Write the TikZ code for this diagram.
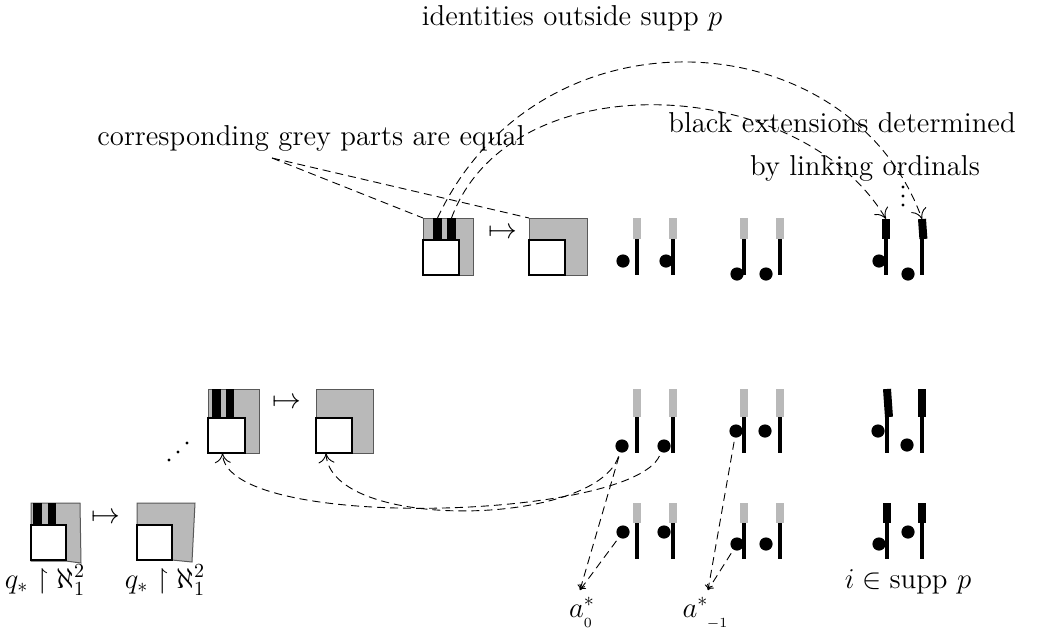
\documentclass[tikz,border=0pt]{standalone}
\usepackage{amssymb}
\usetikzlibrary{arrows.meta}
\definecolor{greyc}{RGB}{185,185,185}
\newcommand{\mystick}[6]{%
  \node[#5, minimum height=#4, anchor=north] (#1) at (#2,#3) {};
  \coordinate (#1x) at (#2,0);
  \draw[stickline] (#1.south -| #1x) -- (#2,#6);}
\begin{document}
\begin{tikzpicture}[x=0.5pt,y=-0.5pt, font=\Large,
  outerbox/.style={fill=greyc, draw=black!65, line width=0.5pt, inner sep=0pt, outer sep=0pt},
  innerbox/.style={fill=white, draw=black, line width=1.3pt, inner sep=0pt, outer sep=0pt, minimum width=18pt, minimum height=17.5pt},
  stripe/.style={fill=black, inner sep=0pt, outer sep=0pt, minimum width=4.5pt},
  gtop/.style={fill=greyc, inner sep=0pt, outer sep=0pt, minimum width=4pt},
  btop/.style={fill=black, inner sep=0pt, outer sep=0pt, minimum width=4pt},
  stickline/.style={line width=1.6pt},
  dot/.style={circle, fill=black, inner sep=0pt, minimum size=6.6pt},
  tinydot/.style={circle, fill=black, inner sep=0pt, minimum size=1.7pt},
  lbl/.style={inner sep=0pt, anchor=base},
  conn/.style={dash pattern=on 4pt off 2.5pt, line width=0.45pt},
  bigtip/.style={conn, -{To[length=5pt,width=8pt]}},
  smalltip/.style={conn, -{To[length=2.5pt,width=4pt]}}]
\useasboundingbox (0,0) rectangle (1042,633);

% ---------- top row ----------
\node[outerbox, minimum width=25pt, minimum height=28.5pt, anchor=north west] (A1) at (423,218) {};
\node[stripe, minimum height=10.5pt, anchor=north west] (A1a) at (433,218) {};
\node[stripe, minimum height=10.5pt, anchor=north west] (A1b) at (447,218) {};
\node[innerbox, anchor=south west] (A1i) at (423,275) {};
\node (mA) at (503,233) {$\mapsto$};
\node[outerbox, minimum width=29pt, minimum height=28.5pt, anchor=north west] (A2) at (529,218) {};
\node[innerbox, anchor=south west] (A2i) at (529,275) {};

\mystick{T1}{637}{218}{10.5pt}{gtop}{275}
\mystick{T2}{673}{218}{10.5pt}{gtop}{275}
\mystick{T3}{744}{218}{10.5pt}{gtop}{275}
\mystick{T4}{780}{218}{10.5pt}{gtop}{275}
\mystick{T5}{886}{219}{10pt}{btop}{275}
\mystick{T6}{922}{219}{10pt}{btop,rotate=4}{275}
\node[dot] (t1) at (623,261) {};
\node[dot] (t2) at (666,261) {};
\node[dot] (t3) at (737,274) {};
\node[dot] (t4) at (766,274) {};
\node[dot] (t5) at (879,261) {};
\node[dot] (t6) at (908,274) {};

% ---------- middle row ----------
\node[outerbox, minimum width=25.5pt, minimum height=32pt, anchor=north west] (B1) at (208,389) {};
\node[stripe, minimum height=14.5pt, anchor=north west] (B1a) at (212,389) {};
\node[stripe, minimum width=4pt, minimum height=14.5pt, anchor=north west] (B1b) at (226,389) {};
\node[innerbox, minimum width=18.5pt, anchor=south west] (B1i) at (208,453) {};
\node (mB) at (287,403) {$\mapsto$};
\node[outerbox, minimum width=28.5pt, minimum height=32pt, anchor=north west] (B2) at (316,389) {};
\node[innerbox, anchor=south west] (B2i) at (316,453) {};
\node[tinydot] (d1) at (169,460) {};
\node[tinydot] (d2) at (178,452) {};
\node[tinydot] (d3) at (187,443) {};

\mystick{M1}{637}{389}{14pt}{gtop}{453}
\mystick{M2}{673}{389}{14pt}{gtop}{453}
\mystick{M3}{744}{389}{14pt}{gtop}{453}
\mystick{M4}{780}{389}{14pt}{gtop}{453}
\mystick{M5}{887}{389}{14pt}{btop,rotate=4}{453}
\mystick{M6}{922}{389}{14pt}{btop}{453}
\node[dot] (m1) at (622,446) {};
\node[dot] (m2) at (664,446) {};
\node[dot] (m3) at (736,431) {};
\node[dot] (m4) at (765,431) {};
\node[dot] (m5) at (878,431) {};
\node[dot] (m6) at (907,445) {};

% ---------- bottom row ----------
\filldraw[fill=greyc, draw=black!65, line width=0.5pt] (31,503) -- (80,503) -- (81,563) -- (66,561) -- (31,561) -- cycle;
\node[stripe, minimum height=11pt, anchor=north west] (C1a) at (33,503) {};
\node[stripe, minimum width=4pt, minimum height=11pt, anchor=north west] (C1b) at (48,503) {};
\node[innerbox, minimum width=17.5pt, anchor=south west] (C1i) at (31,560) {};
\node (mC) at (106,518) {$\mapsto$};
\filldraw[fill=greyc, draw=black!65, line width=0.5pt] (137,503) -- (195,503) -- (192,562) -- (172,560) -- (137,560) -- cycle;
\node[innerbox, minimum width=17.5pt, anchor=south west] (C2i) at (137,560) {};
\node[lbl] (qa) at (45,588) {$q_*\restriction\aleph_1^2$};
\node[lbl] (qb) at (165,588) {$q_*\restriction\aleph_1^2$};

\mystick{S1}{637}{503}{10pt}{gtop}{559}
\mystick{S2}{673}{503}{10pt}{gtop}{559}
\mystick{S3}{744}{503}{10pt}{gtop}{559}
\mystick{S4}{780}{503}{10pt}{gtop}{559}
\mystick{S5}{887}{503}{10pt}{btop}{559}
\mystick{S6}{922}{503}{10pt}{btop}{559}
\node[dot] (b1) at (623,532) {};
\node[dot] (b2) at (664,532) {};
\node[dot] (b3) at (737,544) {};
\node[dot] (b4) at (766,544) {};
\node[dot] (b5) at (879,544) {};
\node[dot] (b6) at (908,532) {};

% ---------- labels ----------
\node[lbl] (ident) at (572,25) {identities outside supp\ $p$};
\node[lbl] (corr) at (311,145) {corresponding grey parts are equal};
\node[lbl] (blk1) at (842,132) {black extensions determined};
\node[lbl] (blk2) at (865,175) {by linking ordinals};
\node[tinydot] (v1) at (903,187) {};
\node[tinydot] (v2) at (903,196) {};
\node[tinydot] (v3) at (903,205) {};
\node[lbl] (supp) at (908,588) {$i\in\mathrm{supp}\ p$};
\node[lbl] (a0) at (582,617) {$a^*_{{}_0}$};
\node[lbl] (a1) at (706,617) {$a^*_{\ {}_{-1}}$};
\coordinate (a0t) at (580,590);
\coordinate (a1t) at (708,590);
\coordinate (cgp) at (272,158);

% ---------- connectors ----------
\draw[conn] (cgp) -- (A1.north west);
\draw[conn] (cgp) -- (A2.north west);
\draw[bigtip] (A1a.north) .. controls (540,0) and (850,20) .. (T6.north);
\draw[bigtip] (A1b.north) .. controls (510,60) and (800,74) .. (T5.north);
\draw[bigtip, shorten <=2pt] (m2) .. controls (630,520) and (225,532) .. ([xshift=-2pt]B1i.south);
\draw[bigtip, shorten <=2pt] (m1) .. controls (595,527) and (330,532) .. ([xshift=-4pt]B2i.south);
\draw[smalltip, shorten <=2pt] (m1) -- (a0t);
\draw[smalltip, shorten <=2pt] (b1) -- (a0t);
\draw[smalltip, shorten <=2pt] (m3) -- (a1t);
\draw[smalltip, shorten <=2pt] (b3) -- (a1t);
\end{tikzpicture}
\end{document}
